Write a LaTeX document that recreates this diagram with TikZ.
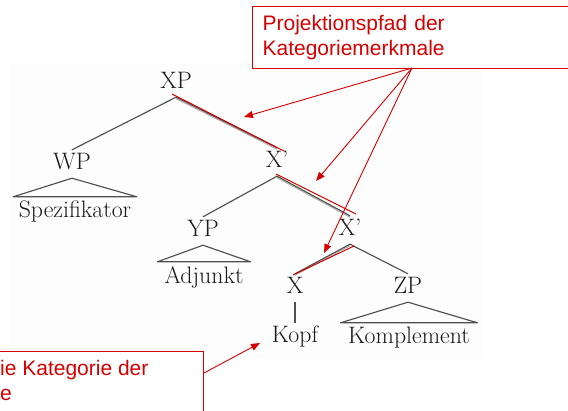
\documentclass[tikz,border=0pt]{standalone}
\usepackage{fontspec}
\newfontfamily\redsans{Liberation Sans}
\usetikzlibrary{arrows.meta}
\definecolor{mred}{RGB}{215,0,0}
\definecolor{tgray}{RGB}{80,80,80}
\begin{document}
\begin{tikzpicture}[x=1pt,y=-1pt,
  lab/.style={font=\fontsize{23.8}{27}\selectfont, text=black!90, inner xsep=0pt, inner ysep=3pt, text height=16pt, text depth=6pt, anchor=base},
  leaf/.style={lab, inner ysep=4pt, text depth=0pt},
  tline/.style={draw=tgray, line width=1.15pt, line join=round},
  shadowline/.style={draw=black!30, line width=1pt, transform canvas={yshift=-1.4pt}},
  redmark/.style={draw=mred, line width=1pt},
  redarrow/.style={draw=mred, line width=0.9pt, -{Triangle[length=9pt,width=7pt]}},
  redbox/.style={draw=mred, line width=1.2pt, fill=white},
  redtext/.style={font=\redsans\fontsize{21}{25}\selectfont, text=mred}]
\useasboundingbox (0,0) rectangle (568,410);
\fill[black!0.7] (10,62) rectangle (483,358);
% tree nodes
\node[lab] (XP) at (176,88) {XP};
\node[lab] (WP) at (72,169) {WP};
\node[lab] (X1) at (277,167) {X’};
\node[lab] (YP) at (203,236) {YP};
\node[lab] (X2) at (350,235) {X’};
\node[lab] (X) at (295,293) {X};
\node[lab] (ZP) at (408,293) {ZP};
\node[lab] (Kopf) at (295,342) {Kopf};
\node[leaf, inner xsep=5.5pt] (Spez) at (75,217) {Spezifikator};
\node[leaf, inner xsep=7pt, inner ysep=5pt] (Adj) at (204,283) {Adjunkt};
\node[leaf, inner xsep=7.5pt] (Kompl) at (409,343) {Komplement};
% tree edges
\draw[tline] (XP.south) -- (WP.north);
\draw[shadowline] (XP.south) -- (X1.north);
\draw[tline] (XP.south) -- (X1.north);
\draw[tline] (WP.south) -- (Spez.north west) -- (Spez.north east) -- cycle;
\draw[tline] (X1.south) -- (YP.north);
\draw[shadowline] (X1.south) -- (X2.north);
\draw[tline] (X1.south) -- (X2.north);
\draw[tline] (YP.south) -- (Adj.north west) -- (Adj.north east) -- cycle;
\draw[shadowline] (X2.south) -- (X.north);
\draw[tline] (X2.south) -- (X.north);
\draw[tline] (X2.south) -- (ZP.north);
\draw[tline] (X.south) -- (Kopf.north);
\draw[tline] (ZP.south) -- (Kompl.north west) -- (Kompl.north east) -- cycle;
% red projection path marks
\coordinate (r1a) at (172,94);
\coordinate (r1b) at (284,151);
\coordinate (r2a) at (276,174);
\coordinate (r2b) at (356,214);
\coordinate (r3a) at (354,246);
\coordinate (r3b) at (293,275);
\draw[redmark] (r1a) -- (r1b);
\draw[redmark] (r2a) -- (r2b);
\draw[redmark] (r3a) -- (r3b);
% boxes
\node[redbox, redtext, anchor=north west, text width=400pt, inner xsep=10pt, inner ysep=0pt, minimum height=62pt, align=left] (boxA) at (252,6) {Projektionspfad der\\Kategoriemerkmale};
\node[redbox, anchor=north east, minimum width=260pt, minimum height=100pt] (boxB) at (204,351) {};
\node[redtext, anchor=base west, inner sep=0pt] (bt1) at (0,375) {ie Kategorie der};
\node[redtext, anchor=base west, inner sep=0pt] (bt2) at (0,400) {e};
% arrows
\coordinate (src) at (412,68);
\coordinate (t1) at (244,117);
\coordinate (t2) at (316,181);
\coordinate (t3) at (324,253);
\draw[redarrow] (src) -- (t1);
\draw[redarrow] (src) -- (t2);
\draw[redarrow] (src) -- (t3);
\coordinate (bsrc) at (204,373);
\coordinate (btip) at (260,343);
\draw[redarrow] (bsrc) -- (btip);
\end{tikzpicture}
\end{document}
